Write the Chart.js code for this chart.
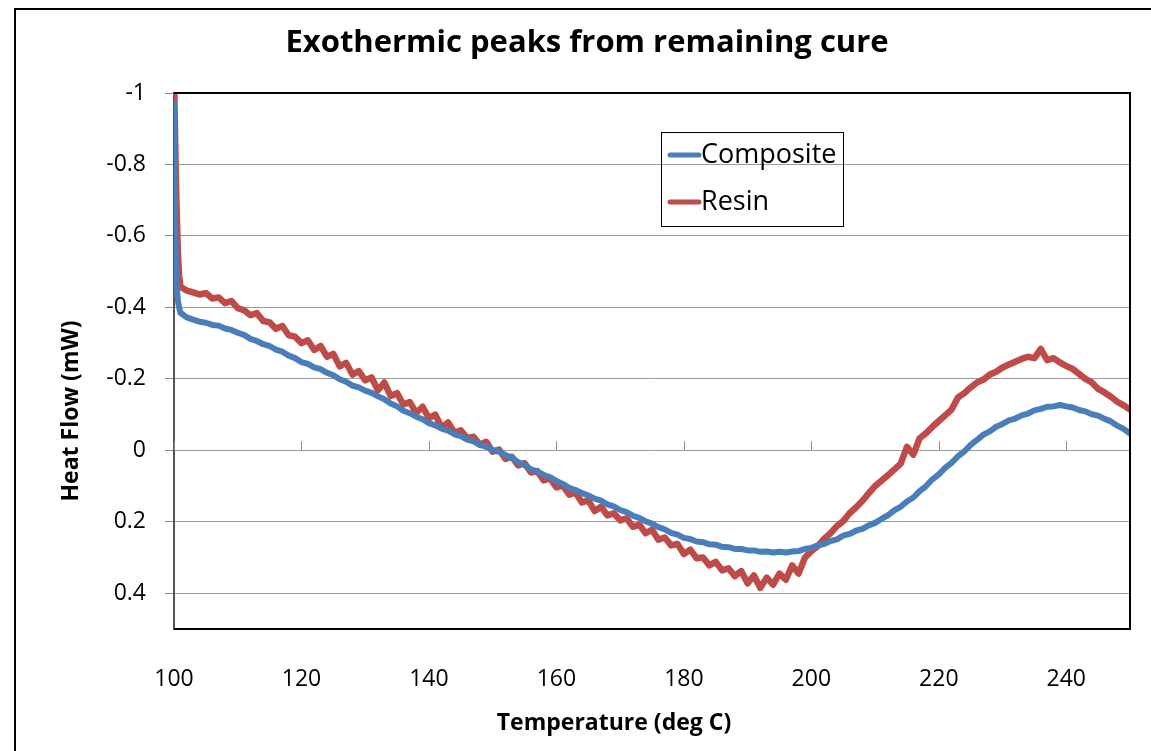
<!DOCTYPE html>
<html>
<head>
<meta charset="utf-8">
<title>Exothermic peaks from remaining cure</title>
<script src="https://cdn.jsdelivr.net/npm/chart.js@4.4.1/dist/chart.umd.min.js"></script>
<style>
  html, body { margin: 0; padding: 0; background: #fff; }
  canvas { display: block; }
</style>
</head>
<body>
<canvas id="dsc" width="1151" height="751"></canvas>
<script>
// DSC scan, temperature in deg C
const temps = [
  100, 100.2, 100.4, 100.6, 100.8, 101, 102, 103, 104, 105, 106, 107, 108, 109, 110,
  111, 112, 113, 114, 115, 116, 117, 118, 119, 120, 121, 122, 123, 124, 125,
  126, 127, 128, 129, 130, 131, 132, 133, 134, 135, 136, 137, 138, 139, 140,
  141, 142, 143, 144, 145, 146, 147, 148, 149, 150, 151, 152, 153, 154, 155,
  156, 157, 158, 159, 160, 161, 162, 163, 164, 165, 166, 167, 168, 169, 170,
  171, 172, 173, 174, 175, 176, 177, 178, 179, 180, 181, 182, 183, 184, 185,
  186, 187, 188, 189, 190, 191, 192, 193, 194, 195, 196, 197, 198, 199, 200,
  201, 202, 203, 204, 205, 206, 207, 208, 209, 210, 211, 212, 213, 214, 215,
  216, 217, 218, 219, 220, 221, 222, 223, 224, 225, 226, 227, 228, 229, 230,
  231, 232, 233, 234, 235, 236, 237, 238, 239, 240, 241, 242, 243, 244, 245,
  246, 247, 248, 249, 250
];

// heat flow (mW), composite sample
const compositeHF = [
  -0.97, -0.60, -0.47, -0.42, -0.40, -0.385, -0.372, -0.366, -0.360, -0.357, -0.351, -0.349, -0.341, -0.337, -0.329,
  -0.323, -0.312, -0.306, -0.297, -0.292, -0.282, -0.276, -0.265, -0.258, -0.247, -0.242, -0.232, -0.227, -0.217, -0.210,
  -0.199, -0.192, -0.181, -0.176, -0.167, -0.161, -0.151, -0.143, -0.131, -0.123, -0.111, -0.104, -0.094, -0.087, -0.076,
  -0.070, -0.061, -0.055, -0.045, -0.040, -0.030, -0.025, -0.015, -0.010, -0.001, 0.004, 0.013, 0.021, 0.033, 0.041,
  0.053, 0.059, 0.069, 0.075, 0.086, 0.094, 0.105, 0.111, 0.120, 0.126, 0.135, 0.141, 0.151, 0.157, 0.167,
  0.173, 0.183, 0.189, 0.199, 0.205, 0.215, 0.221, 0.231, 0.236, 0.245, 0.248, 0.255, 0.257, 0.263, 0.264,
  0.270, 0.271, 0.276, 0.276, 0.280, 0.280, 0.284, 0.283, 0.286, 0.284, 0.286, 0.283, 0.282, 0.276, 0.273,
  0.266, 0.262, 0.254, 0.249, 0.239, 0.234, 0.225, 0.220, 0.210, 0.203, 0.192, 0.182, 0.168, 0.158, 0.143,
  0.132, 0.114, 0.100, 0.081, 0.067, 0.049, 0.035, 0.017, 0.003, -0.015, -0.029, -0.044, -0.053, -0.066, -0.074,
  -0.084, -0.089, -0.098, -0.103, -0.112, -0.116, -0.122, -0.123, -0.127, -0.123, -0.120, -0.113, -0.109, -0.101, -0.097,
  -0.088, -0.081, -0.069, -0.060, -0.047
];

// heat flow (mW), neat resin sample
const resinHF = [
  -1.05, -0.85, -0.68, -0.56, -0.49, -0.458, -0.447, -0.442, -0.436, -0.440, -0.425, -0.428, -0.412, -0.418, -0.398,
  -0.392, -0.378, -0.384, -0.362, -0.358, -0.340, -0.348, -0.322, -0.318, -0.300, -0.308, -0.281, -0.292, -0.262, -0.270,
  -0.235, -0.245, -0.212, -0.222, -0.196, -0.204, -0.168, -0.190, -0.152, -0.160, -0.128, -0.135, -0.105, -0.122, -0.090,
  -0.100, -0.064, -0.078, -0.050, -0.056, -0.034, -0.038, -0.016, -0.024, 0.004, -0.002, 0.024, 0.018, 0.042, 0.036,
  0.062, 0.058, 0.084, 0.078, 0.104, 0.098, 0.124, 0.118, 0.146, 0.140, 0.170, 0.158, 0.182, 0.176, 0.196,
  0.190, 0.214, 0.208, 0.232, 0.222, 0.250, 0.244, 0.266, 0.262, 0.290, 0.278, 0.302, 0.300, 0.322, 0.312,
  0.336, 0.330, 0.352, 0.338, 0.372, 0.350, 0.385, 0.356, 0.376, 0.345, 0.362, 0.322, 0.345, 0.300, 0.282,
  0.268, 0.248, 0.232, 0.212, 0.198, 0.176, 0.160, 0.142, 0.120, 0.100, 0.085, 0.070, 0.054, 0.038, -0.010,
  0.012, -0.034, -0.048, -0.066, -0.082, -0.098, -0.114, -0.148, -0.160, -0.176, -0.190, -0.198, -0.212, -0.220, -0.232,
  -0.240, -0.248, -0.256, -0.262, -0.258, -0.284, -0.252, -0.258, -0.246, -0.236, -0.228, -0.214, -0.200, -0.190, -0.172,
  -0.162, -0.150, -0.136, -0.126, -0.114
];

const seriesNames = ['Composite', 'Resin'];
const seriesColors = ['#4a7ebb', '#be4b48'];
const seriesWidths = [6, 6.5];

const chartTitle = 'Exothermic peaks from remaining cure';
const xTitle = 'Temperature (deg C)';
const yTitle = 'Heat Flow (mW)';

const FONT = '"Open Sans", Lato, sans-serif';

// frame, titles, legend and the x-axis ticks that sit on the zero line
const decorations = {
  id: 'decorations',
  afterDraw(chart) {
    const { ctx, chartArea: a, scales } = chart;
    ctx.save();

    // outer border of the chart object
    ctx.strokeStyle = '#000';
    ctx.lineWidth = 2;
    ctx.strokeRect(15, 9, 1300, 900);

    // plot area frame
    ctx.beginPath();
    ctx.moveTo(a.left, a.top);
    ctx.lineTo(a.right, a.top);
    ctx.lineTo(a.right, a.bottom);
    ctx.lineTo(a.left, a.bottom);
    ctx.stroke();

    // horizontal axis crosses at 0 with tick marks above it
    const y0 = scales.y.getPixelForValue(0);
    ctx.strokeStyle = '#8a8a8a';
    ctx.lineWidth = 1;
    ctx.beginPath();
    scales.x.ticks.forEach(t => {
      const px = Math.round(scales.x.getPixelForValue(t.value)) + 0.5;
      ctx.moveTo(px, y0 - 9);
      ctx.lineTo(px, y0);
    });
    ctx.stroke();

    // titles
    ctx.fillStyle = '#000';
    ctx.textAlign = 'center';
    ctx.textBaseline = 'middle';
    ctx.font = 'bold 31px ' + FONT;
    ctx.fillText(chartTitle, 587, 43);

    ctx.font = 'bold 23px ' + FONT;
    ctx.fillText(xTitle, 614, 723);
    ctx.save();
    ctx.translate(71, 411);
    ctx.rotate(-Math.PI / 2);
    ctx.fillText(yTitle, 0, 0);
    ctx.restore();

    // legend
    ctx.strokeStyle = '#000';
    ctx.lineWidth = 1;
    ctx.strokeRect(661.5, 132.5, 182, 94);
    ctx.font = '27px ' + FONT;
    ctx.textAlign = 'left';
    chart.data.datasets.forEach((ds, i) => {
      const ly = 155 + i * 47;
      ctx.strokeStyle = ds.borderColor;
      ctx.lineWidth = 5;
      ctx.lineCap = 'round';
      ctx.beginPath();
      ctx.moveTo(670, ly);
      ctx.lineTo(699, ly);
      ctx.stroke();
      ctx.fillStyle = '#000';
      ctx.fillText(ds.label, 701, ly);
    });

    ctx.restore();
  }
};

const whiteBg = {
  id: 'whiteBg',
  beforeDraw(chart) {
    const { ctx, width, height } = chart;
    ctx.save();
    ctx.fillStyle = '#fff';
    ctx.fillRect(0, 0, width, height);
    ctx.restore();
  }
};

// -1.0 -> "-1", 0.20000001 -> "0.2"
const fmtTick = v => String(Math.round(v * 10) / 10);

new Chart(document.getElementById('dsc'), {
  type: 'line',
  data: {
    datasets: [compositeHF, resinHF].map((vals, i) => ({
      label: seriesNames[i],
      data: temps.map((t, j) => ({ x: t, y: vals[j] })),
      borderColor: seriesColors[i],
      backgroundColor: seriesColors[i],
      borderWidth: seriesWidths[i],
      pointRadius: 0,
      tension: 0,
      borderJoinStyle: 'round',
      borderCapStyle: 'round'
    }))
  },
  options: {
    responsive: false,
    animation: false,
    devicePixelRatio: 1,
    layout: { padding: { left: 0, top: 93, right: 21, bottom: 0 } },
    plugins: {
      legend: { display: false },
      title: { display: false },
      tooltip: { enabled: false }
    },
    scales: {
      x: {
        type: 'linear',
        min: 100,
        max: 250,
        grid: { display: false },
        border: { display: false },
        ticks: {
          stepSize: 20,
          includeBounds: false,
          padding: 29,
          color: '#000',
          font: { family: FONT, size: 23 },
          maxRotation: 0
        },
        afterFit: s => { s.height = 122; }
      },
      y: {
        reverse: true,
        min: -1,
        max: 0.5,
        grid: { color: '#9a9a9a', lineWidth: 1, tickLength: 9, tickColor: '#8a8a8a' },
        border: { display: true, color: '#555', width: 2 },
        ticks: {
          stepSize: 0.2,
          includeBounds: false,
          padding: 19,
          color: '#000',
          font: { family: FONT, size: 23 },
          callback: fmtTick
        },
        afterFit: s => { s.width = 174; }
      }
    }
  },
  plugins: [whiteBg, decorations]
});
</script>
</body>
</html>
